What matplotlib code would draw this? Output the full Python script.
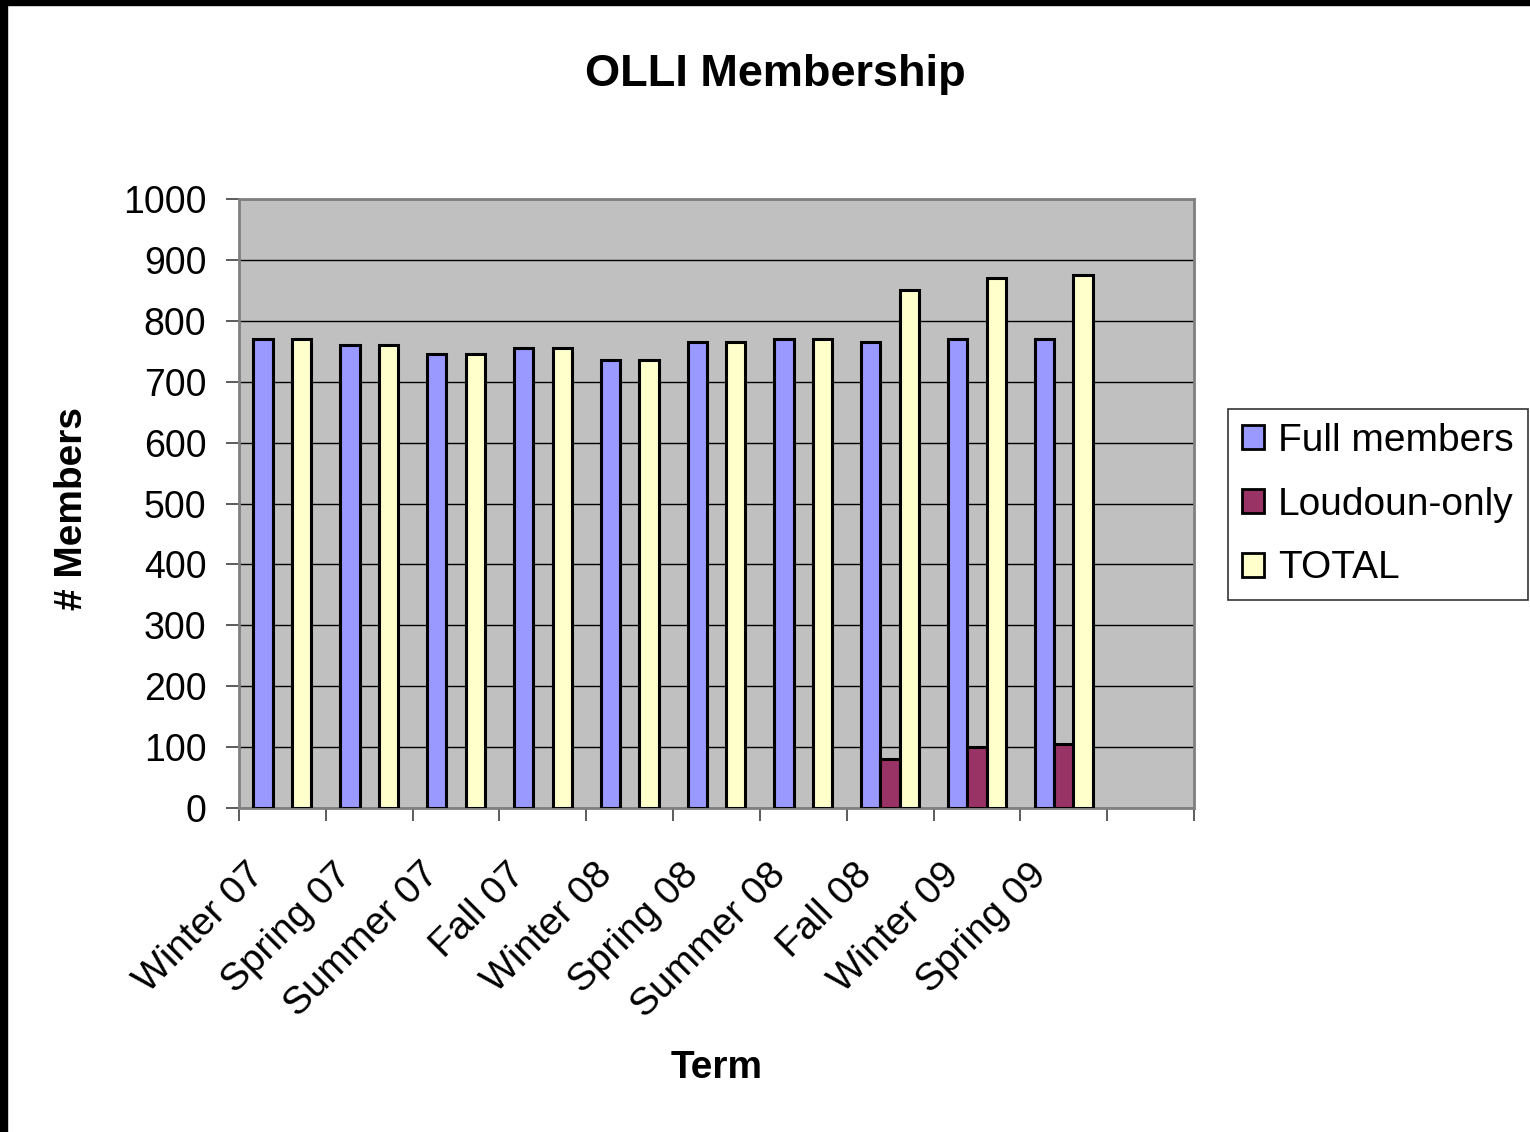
import numpy as np
import matplotlib.pyplot as plt
from matplotlib.patches import Rectangle
from matplotlib.transforms import ScaledTranslation

terms = ['Winter 07', 'Spring 07', 'Summer 07', 'Fall 07', 'Winter 08',
         'Spring 08', 'Summer 08', 'Fall 08', 'Winter 09', 'Spring 09']
full_members = [770, 760, 745, 755, 735, 765, 770, 765, 770, 770]
loudoun_only = [0, 0, 0, 0, 0, 0, 0, 80, 100, 105]
total = [770, 760, 745, 755, 735, 765, 770, 850, 870, 875]

plt.rcParams['font.family'] = ['Liberation Sans', 'DejaVu Sans']

fig = plt.figure(figsize=(15.3, 11.32), dpi=100)
ax = fig.add_axes([0.1562, 0.2862, 0.6242, 0.538])

# 11 slots, the last one empty (like the original sheet)
n_slots = len(terms) + 1
x = np.arange(len(terms))
w = 1 / 4.5

series = [(full_members, '#9999FF', 'Full members'),
          (loudoun_only, '#993366', 'Loudoun-only'),
          (total, '#FFFFCC', 'TOTAL')]
for i, (vals, col, lab) in enumerate(series):
    lw = [0 if v == 0 else 2.2 for v in vals]
    ax.bar(x + (i - 1) * w, vals, width=w, color=col, edgecolor='black',
           linewidth=lw, label=lab, zorder=3)

ax.set_facecolor('#C0C0C0')
ax.set_xlim(-0.5, n_slots - 0.5)
ax.set_ylim(0, 1000)
ax.set_yticks(range(0, 1001, 100))
ax.yaxis.grid(True, color='black', linewidth=1.0, zorder=1)
ax.set_axisbelow(True)

ax.set_xticks(np.arange(-0.5, n_slots, 1.0))
ax.set_xticklabels([])
ax.set_xticks(x, minor=True)
ax.set_xticklabels(terms, minor=True, rotation=45, ha='right',
                   rotation_mode='anchor', fontsize=28)
ax.tick_params(axis='x', which='minor', length=0, pad=14)
ax.tick_params(axis='x', which='major', length=9, width=1.2, color='#404040')
ax.tick_params(axis='y', length=9.4, width=1.2, labelsize=27, color='#404040', pad=14)

# shift the slanted term labels down and left, as in the original
shift = ScaledTranslation(-0.36, -0.29, fig.dpi_scale_trans)
for lbl in ax.get_xticklabels(minor=True):
    lbl.set_transform(lbl.get_transform() + shift)

for s in ax.spines.values():
    s.set_color('#808080')
    s.set_linewidth(2)

fig.text(775 / 1530, 1 - 86 / 1132, 'OLLI Membership', fontsize=32.5,
         fontweight='bold', ha='center', va='baseline')
fig.text(717 / 1530, 1 - 1078 / 1132, 'Term', fontsize=28,
         fontweight='bold', ha='center', va='baseline')
fig.text(72 / 1530, 1 - 508 / 1132, '# Members', fontsize=28,
         fontweight='bold', ha='center', va='center', rotation=90)

leg = ax.legend(loc='center left', bbox_to_anchor=(1.0356, 0.498), fontsize=28,
                frameon=True, fancybox=False, edgecolor='black',
                borderpad=0.36, handlelength=0.57, handleheight=0.57,
                handletextpad=0.36, labelspacing=0.71, borderaxespad=0)
leg.get_frame().set_linewidth(1.2)
for h in leg.legend_handles:
    h.set_linewidth(2)

# black edge band along the top and left of the picture
fig.add_artist(Rectangle((0, 1 - 5 / 1132), 1, 5 / 1132, transform=fig.transFigure,
                         color='black', zorder=10))
fig.add_artist(Rectangle((0, 0), 7 / 1530, 1, transform=fig.transFigure,
                         color='black', zorder=10))

fig.savefig('out.png', dpi=100)
